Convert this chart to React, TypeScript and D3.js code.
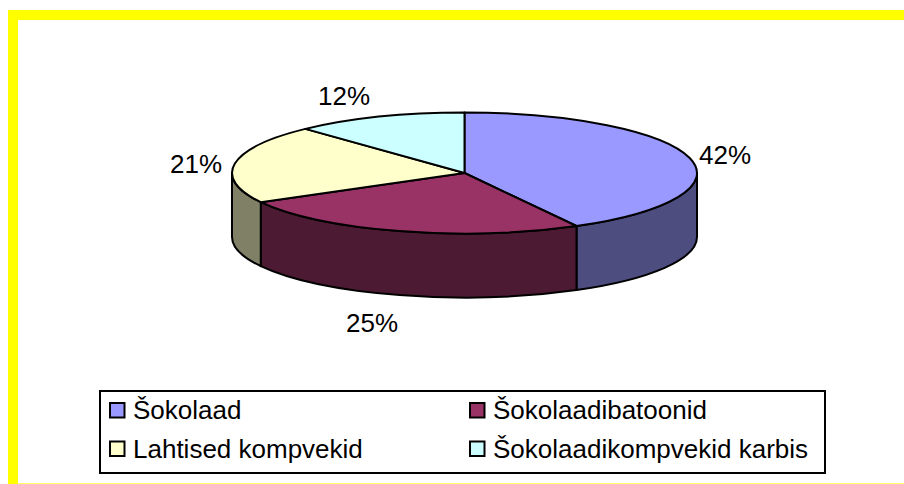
import * as d3 from "d3";

const WIDTH = 904;
const HEIGHT = 484;

const categories = ["Šokolaad", "Šokolaadibatoonid", "Lahtised kompvekid", "Šokolaadikompvekid karbis"];
const values = [42, 25, 21, 12];
const topColors = ["#9999FF", "#993366", "#FFFFCC", "#CCFFFF"];
const wallColors = ["#4D4D80", "#4D1A33", "#808066", "#668080"];
const labelPos = [
  { x: 725, y: 155 },
  { x: 372, y: 323 },
  { x: 196, y: 164 },
  { x: 344, y: 96 },
];

const CX = 464.5;
const CY = 173;
const RX = 232.5;
const RY = 60.5;
const DEPTH = 64;
const FONT = "'Liberation Sans', Arial, sans-serif";
const FONT_SIZE = 26;

// pie angles run clockwise from the top, same as the original
const pie = d3.pie<number>().sort(null).startAngle(0).endAngle(2 * Math.PI);
const arcs = pie(values);

const px = (a: number) => CX + RX * Math.sin(a);
const py = (a: number) => CY - RY * Math.cos(a);

function topPath(a0: number, a1: number) {
  const large = a1 - a0 > Math.PI ? 1 : 0;
  return `M${CX},${CY}L${px(a0)},${py(a0)}A${RX},${RY} 0 ${large} 1 ${px(a1)},${py(a1)}Z`;
}

// only the part of the rim facing the viewer (90 to 270 degrees)
function wallPath(a0: number, a1: number) {
  const s = Math.max(a0, Math.PI / 2);
  const e = Math.min(a1, (3 * Math.PI) / 2);
  if (e <= s) return null;
  return (
    `M${px(s)},${py(s)}A${RX},${RY} 0 0 1 ${px(e)},${py(e)}` +
    `L${px(e)},${py(e) + DEPTH}A${RX},${RY} 0 0 0 ${px(s)},${py(s) + DEPTH}Z`
  );
}

const legendX = d3.scaleOrdinal<number, number>().domain([0, 1]).range([110, 470]);
const legendY = d3.scaleOrdinal<number, number>().domain([0, 1]).range([410.5, 449]);

export default function App() {
  return (
    <svg
      width={WIDTH}
      height={HEIGHT}
      style={{ position: "absolute", left: 0, top: 0, background: "#fff" }}
      fontFamily={FONT}
    >
      <rect x={8} y={10} width={WIDTH - 8} height={10} fill="#FFFF00" />
      <rect x={8} y={10} width={10} height={HEIGHT - 10} fill="#FFFF00" />
      <rect x={18} y={483} width={WIDTH - 18} height={1} fill="#FFFF66" />

      {arcs.map((d, i) => {
        const w = wallPath(d.startAngle, d.endAngle);
        return w ? <path key={i} d={w} fill={wallColors[i]} stroke="#000" strokeWidth={2} strokeLinejoin="round" /> : null;
      })}
      {arcs.map((d, i) => (
        <path key={i} d={topPath(d.startAngle, d.endAngle)} fill={topColors[i]} stroke="#000" strokeWidth={2} strokeLinejoin="round" />
      ))}

      {values.map((v, i) => (
        <text key={i} x={labelPos[i].x} y={labelPos[i].y} fontSize={FONT_SIZE} textAnchor="middle" dominantBaseline="central" fill="#000">
          {v}%
        </text>
      ))}

      <rect x={100} y={391} width={725} height={82} fill="#fff" stroke="#000" strokeWidth={2} />
      {categories.map((c, i) => {
        const col = i % 2;
        const row = Math.floor(i / 2);
        return (
          <g key={c}>
            <rect x={legendX(col)} y={legendY(row) - 7.5} width={14.5} height={14.5} fill={topColors[i]} stroke="#000" strokeWidth={2} />
            <text x={legendX(col) + 23} y={legendY(row) + 8.5} fontSize={FONT_SIZE} fill="#000">
              {c}
            </text>
          </g>
        );
      })}
    </svg>
  );
}
